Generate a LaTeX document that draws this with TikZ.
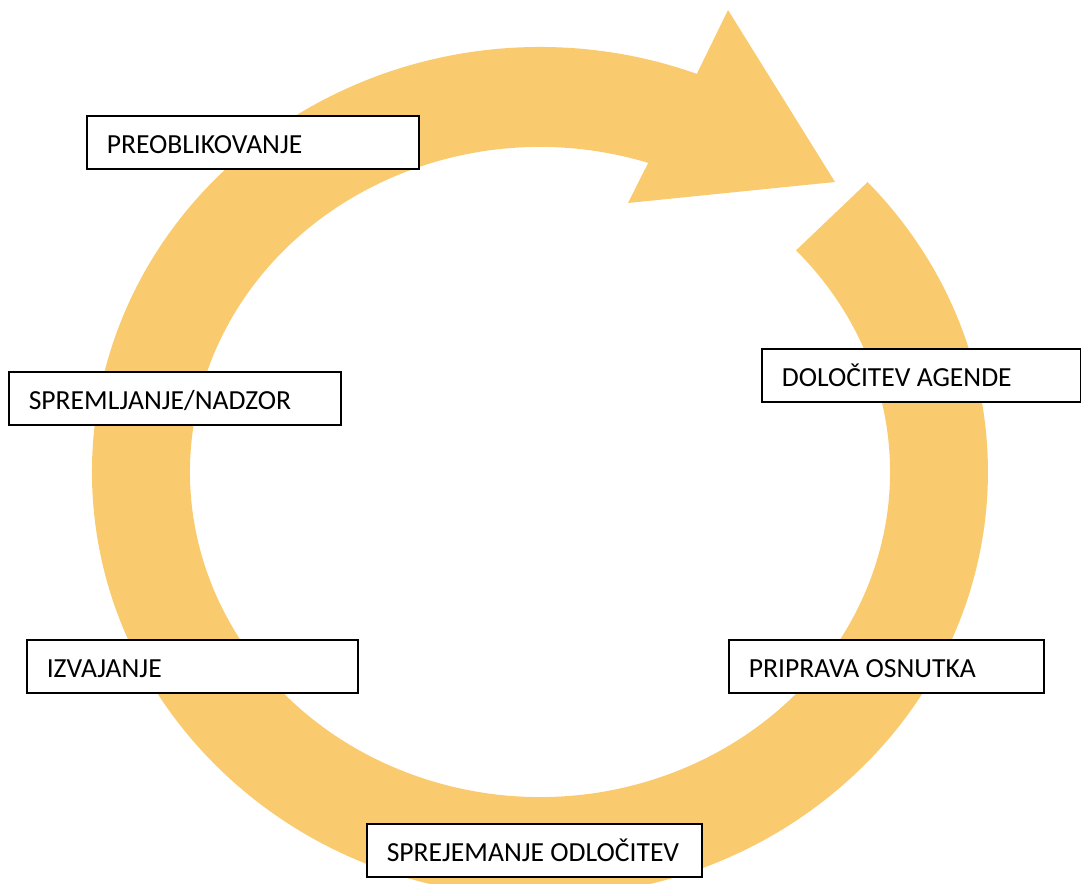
\documentclass[tikz,border=0pt]{standalone}
\usepackage{fontspec}
\setmainfont{Carlito}
\definecolor{ringyellow}{HTML}{F9CB6E}

\begin{document}
\begin{tikzpicture}[x=0.5pt, y=0.5pt,
	ring/.style = {fill=ringyellow},
	stage/.style = {draw, fill=white,
		line width=0.8pt,
		anchor=north west,
		inner xsep=10pt, inner ysep=0pt,
		minimum height=26.5pt,
		text width=#1, align=flush left,
		text height=11pt, text depth=0pt,
		font=\fontsize{13.8}{16}\selectfont},
	stage/.default = 146pt]

	\clip (-540,-411) rectangle (541,472);

	% the circular arrow
	\fill[ring] (256,221.6) -- (327.6,289.9)
		arc[start angle=43, end angle=-290.5, x radius=448, y radius=425]
		-- (188,462) -- (295,290) -- (88,269) -- (108.2,309.1)
		arc[start angle=-288, end angle=43, x radius=350, y radius=325]
		-- cycle;

	\node[stage] (preob) at (-454,357) {PREOBLIKOVANJE};
	\node[stage] (nadzor) at (-532,101) {SPREMLJANJE/NADZOR};
	\node[stage=139.5pt] (agenda) at (221,124) {DOLOČITEV AGENDE};
	\node[stage=145.5pt] (izv) at (-514,-167) {IZVAJANJE};
	\node[stage=137.5pt] (osnutek) at (188,-167) {PRIPRAVA OSNUTKA};
	\node[stage=147.5pt] (sprej) at (-174,-351) {SPREJEMANJE ODLOČITEV};

\end{tikzpicture}
\end{document}
